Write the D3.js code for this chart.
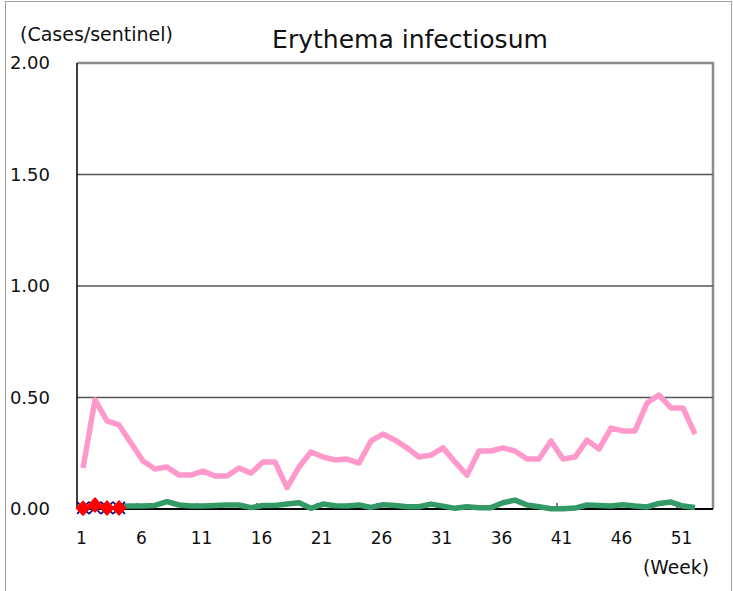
<!DOCTYPE html>
<html>
<head>
<meta charset="utf-8">
<script src="https://cdn.jsdelivr.net/npm/d3@7"></script>
<style>
  html, body { margin: 0; padding: 0; background: #fff; }
  svg { display: block; }
  text { font-family: "DejaVu Sans", "Open Sans", sans-serif; fill: #111; }
</style>
</head>
<body>
<svg id="chart" width="733" height="591"></svg>
<script>
const weeks = d3.range(1, 54);
const xTickLabels = [1, 6, 11, 16, 21, 26, 31, 36, 41, 46, 51];
const yTicks = [0, 0.5, 1.0, 1.5, 2.0];

const pinkValues = [0.184, 0.489, 0.395, 0.377, 0.296, 0.215, 0.179, 0.188, 0.152, 0.152,
  0.170, 0.148, 0.148, 0.184, 0.161, 0.211, 0.211, 0.096, 0.188, 0.256,
  0.233, 0.220, 0.224, 0.206, 0.305, 0.336, 0.309, 0.274, 0.233, 0.242,
  0.274, 0.211, 0.152, 0.260, 0.260, 0.274, 0.260, 0.224, 0.224, 0.305,
  0.224, 0.233, 0.309, 0.269, 0.363, 0.350, 0.350, 0.475, 0.511, 0.453,
  0.453, 0.336];
const greenValues = [null, null, null, 0.012, 0.013, 0.013, 0.016, 0.033, 0.018, 0.013,
  0.013, 0.016, 0.018, 0.018, 0.006, 0.016, 0.016, 0.022, 0.028, 0.003,
  0.022, 0.015, 0.013, 0.018, 0.007, 0.019, 0.016, 0.010, 0.010, 0.022,
  0.013, 0.003, 0.010, 0.006, 0.006, 0.028, 0.040, 0.018, 0.010, 0.001,
  0.001, 0.004, 0.018, 0.016, 0.013, 0.019, 0.013, 0.009, 0.025, 0.031,
  0.013, 0.007];
const blueValues = [0.005, 0.005, 0.005, 0.005];
const redValues = [0.003, 0.018, 0.004, 0.004];

const svg = d3.select("#chart");
const L = 77, R = 713, T = 63, B = 509;

const x = d3.scaleBand().domain(weeks).range([L, R]).paddingInner(0).paddingOuter(0);
const y = d3.scaleLinear().domain([0, 2]).range([B, T]);
const cx = w => x(w) + x.bandwidth() / 2;

// fit text to a target width
function fitText(sel, targetWidth) {
  const node = sel.node();
  const fs = parseFloat(sel.attr("font-size"));
  const w = node.getComputedTextLength();
  if (w > 0) sel.attr("font-size", (fs * targetWidth / w).toFixed(2));
  return sel;
}

// outer frame
svg.append("rect").attr("x", 5.5).attr("y", 1.5).attr("width", 726).attr("height", 600)
  .attr("fill", "none").attr("stroke", "#a0a0a0").attr("stroke-width", 1);

// plot frame (top/right gray)
svg.append("path")
  .attr("d", `M${L},${T}H${R}V${B}`)
  .attr("fill", "none").attr("stroke", "#8c8c8c").attr("stroke-width", 2.5);

// gridlines
svg.append("g").selectAll("line").data(yTicks.filter(v => v > 0 && v < 2)).join("line")
  .attr("x1", L).attr("x2", R).attr("y1", d => y(d)).attr("y2", d => y(d))
  .attr("stroke", "#555").attr("stroke-width", 1.5);

// y axis labels
svg.append("g").selectAll("text").data(yTicks).join("text")
  .attr("x", 50).attr("y", d => y(d)).attr("dy", "0.36em")
  .attr("text-anchor", "end").attr("font-size", 18)
  .text(d => d3.format(".2f")(d));

// axes lines
svg.append("line").attr("x1", L).attr("x2", L).attr("y1", T).attr("y2", B)
  .attr("stroke", "#000").attr("stroke-width", 1.5);
svg.append("line").attr("x1", L).attr("x2", R).attr("y1", B).attr("y2", B)
  .attr("stroke", "#000").attr("stroke-width", 2);

// x ticks at every 5-week boundary
const tickBounds = d3.range(6, 53, 5);
svg.append("g").selectAll("line").data(tickBounds).join("line")
  .attr("x1", d => x(d)).attr("x2", d => x(d)).attr("y1", B).attr("y2", B - 6)
  .attr("stroke", "#000").attr("stroke-width", 1);

// x labels
svg.append("g").selectAll("text").data(xTickLabels).join("text")
  .attr("x", d => cx(d) - 1.5).attr("y", 538).attr("dy", "0.36em")
  .attr("text-anchor", "middle").attr("font-size", 17)
  .text(d => d);

// lines
const line = d3.line().defined(d => d.v != null).x(d => cx(d.w)).y(d => y(d.v));
const toPts = arr => arr.map((v, i) => ({ w: i + 1, v }));

svg.append("path").datum(toPts(pinkValues)).attr("d", line)
  .attr("fill", "none").attr("stroke", "#ff99cc").attr("stroke-width", 5.5)
  .attr("stroke-linejoin", "round");
svg.append("path").datum(toPts(greenValues)).attr("d", line)
  .attr("fill", "none").attr("stroke", "#339966").attr("stroke-width", 5.5)
  .attr("stroke-linejoin", "round");

// blue x markers
const bluePts = toPts(blueValues);
svg.append("path").datum(bluePts).attr("d", line)
  .attr("fill", "none").attr("stroke", "#000080").attr("stroke-width", 2);
svg.append("g").selectAll("path").data(bluePts).join("path")
  .attr("transform", d => `translate(${cx(d.w)},${y(d.v)})`)
  .attr("d", "M-6,-6L6,6M-6,6L6,-6")
  .attr("stroke", "#000080").attr("stroke-width", 1.5);

// red diamonds
const redPts = toPts(redValues);
svg.append("path").datum(redPts).attr("d", line)
  .attr("fill", "none").attr("stroke", "#ff0000").attr("stroke-width", 4);
svg.append("g").selectAll("path").data(redPts).join("path")
  .attr("transform", d => `translate(${cx(d.w)},${y(d.v)})`)
  .attr("d", "M0,-8L7.5,0L0,8L-7.5,0Z")
  .attr("fill", "#ff0000");

// titles
fitText(svg.append("text").attr("x", 410).attr("y", 48).attr("text-anchor", "middle")
  .attr("font-size", 24).text("Erythema infectiosum"), 276);
fitText(svg.append("text").attr("x", 20).attr("y", 41).attr("font-size", 16)
  .text("(Cases/sentinel)"), 153);
fitText(svg.append("text").attr("x", 709).attr("y", 574).attr("text-anchor", "end")
  .attr("font-size", 17).text("(Week)"), 66);
</script>
</body>
</html>
